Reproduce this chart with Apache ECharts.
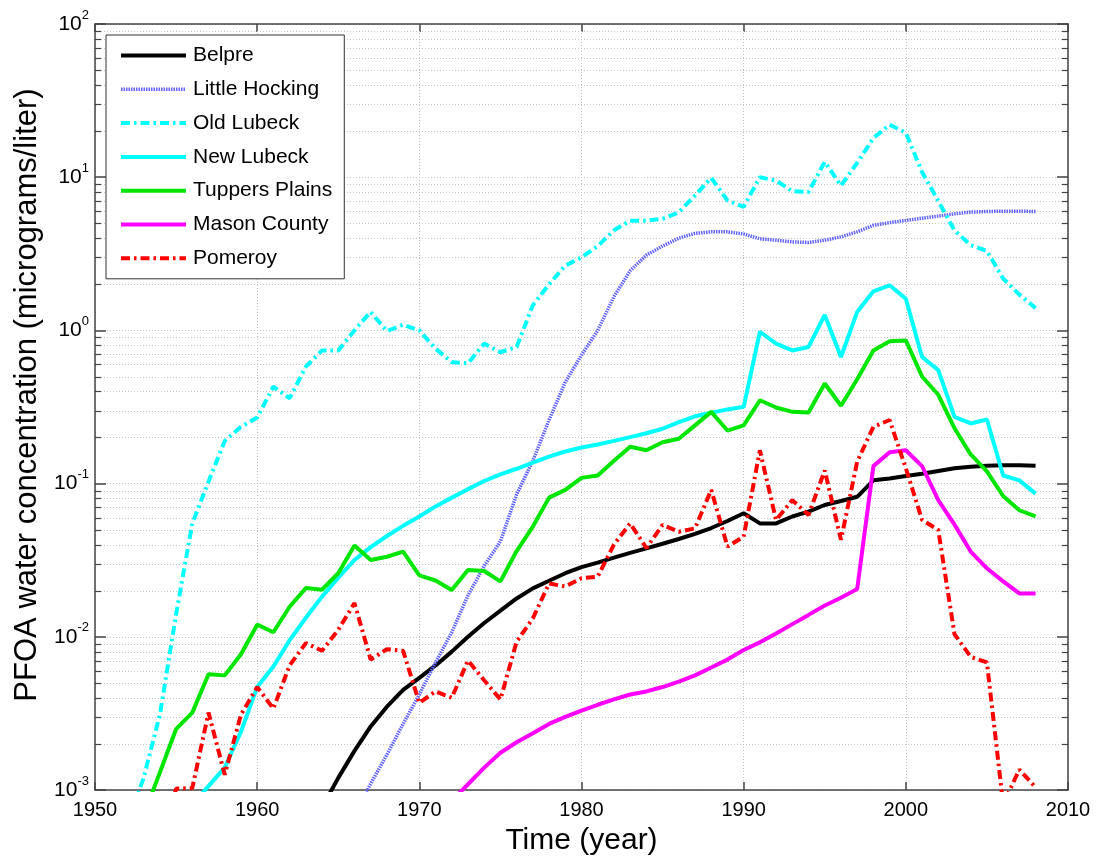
<!DOCTYPE html>
<html>
<head>
<meta charset="utf-8">
<script src="https://cdn.jsdelivr.net/npm/echarts/dist/echarts.min.js"></script>
<style>
  html, body { margin: 0; padding: 0; background: #fff; }
  #chart { width: 1098px; height: 861px; }
</style>
</head>
<body>
<div id="chart"></div>
<script>
  // yearly PFOA estimates, each list starts at its own first year
  var belpreStart = 1964
  var belpre = [0.00077, 0.0012, 0.0018, 0.0026, 0.0035, 0.0045, 0.0054, 0.0065, 0.008, 0.010,
    0.0123, 0.0148, 0.0178, 0.0207, 0.0232, 0.026, 0.0285, 0.0305, 0.0329, 0.0353,
    0.0378, 0.0405, 0.0435, 0.047, 0.0513, 0.057, 0.064, 0.055, 0.055, 0.061,
    0.0656, 0.0725, 0.077, 0.082, 0.105, 0.108, 0.112, 0.116, 0.121, 0.126,
    0.129, 0.131, 0.132, 0.132, 0.131]

  var littleHockingStart = 1966
  var littleHocking = [0.0007, 0.0011, 0.0017, 0.0027, 0.0042, 0.0068, 0.0107, 0.0186, 0.029, 0.042,
    0.085, 0.141, 0.26, 0.46, 0.69, 1.0, 1.66, 2.45, 3.1, 3.55,
    4.0, 4.3, 4.4, 4.4, 4.26, 3.96, 3.88, 3.78, 3.75, 3.88,
    4.08, 4.4, 4.85, 5.05, 5.22, 5.4, 5.57, 5.77, 5.92, 5.97,
    6.0, 6.0, 5.97]

  var oldLubeckStart = 1952
  var oldLubeck = [0.0006, 0.0012, 0.0031, 0.014, 0.055, 0.103, 0.19, 0.235, 0.27, 0.43,
    0.36, 0.58, 0.74, 0.74, 1.0, 1.32, 0.99, 1.09, 1.0, 0.76,
    0.62, 0.61, 0.82, 0.72, 0.78, 1.46, 2.0, 2.65, 3.0, 3.55,
    4.5, 5.2, 5.2, 5.35, 5.9, 7.6, 9.9, 7.05, 6.4, 10.0,
    9.5, 8.1, 8.0, 12.6, 8.8, 12.4, 18.0, 22.0, 19.5, 10.8,
    7.0, 4.5, 3.6, 3.3, 2.18, 1.71, 1.4]

  var newLubeckStart = 1956
  var newLubeck = [0.0008, 0.00106, 0.0014, 0.0024, 0.0047, 0.0064, 0.0095, 0.0133, 0.0183, 0.0243,
    0.0317, 0.0385, 0.0455, 0.053, 0.061, 0.071, 0.081, 0.092, 0.104, 0.115,
    0.125, 0.137, 0.15, 0.162, 0.172, 0.18, 0.19, 0.201, 0.213, 0.228,
    0.252, 0.275, 0.29, 0.305, 0.317, 0.98, 0.82, 0.74, 0.78, 1.26,
    0.67, 1.32, 1.8, 1.97, 1.61, 0.67, 0.55, 0.273, 0.247, 0.262,
    0.113, 0.105, 0.086]

  var tuppersStart = 1953
  var tuppers = [0.00068, 0.0013, 0.0025, 0.0032, 0.0057, 0.0056, 0.0077, 0.012, 0.0107, 0.0157,
    0.0208, 0.0203, 0.026, 0.0394, 0.0317, 0.0333, 0.036, 0.0252, 0.0233, 0.0202,
    0.0273, 0.0269, 0.023, 0.0363, 0.0524, 0.081, 0.091, 0.109, 0.113, 0.141,
    0.174, 0.165, 0.186, 0.196, 0.24, 0.294, 0.222, 0.24, 0.35, 0.314,
    0.294, 0.291, 0.45, 0.322, 0.48, 0.74, 0.85, 0.86, 0.50, 0.38,
    0.23, 0.155, 0.12, 0.083, 0.067, 0.061]

  var masonStart = 1972
  var mason = [0.00085, 0.00109, 0.0014, 0.00175, 0.00205, 0.00235, 0.0027, 0.003, 0.0033, 0.0036,
    0.0039, 0.0042, 0.0044, 0.0047, 0.0051, 0.0056, 0.0063, 0.0071, 0.0082, 0.0092,
    0.0105, 0.0121, 0.0139, 0.016, 0.018, 0.0205, 0.13, 0.16, 0.165, 0.13,
    0.078, 0.054, 0.036, 0.028, 0.023, 0.0192, 0.0192]

  var pomeroyStart = 1954
  var pomeroy = [0.0004, 0.00102, 0.00103, 0.0032, 0.00126, 0.0031, 0.0047, 0.0034, 0.0065, 0.0091,
    0.0081, 0.0111, 0.0166, 0.0071, 0.0083, 0.0081, 0.0037, 0.0044, 0.0040, 0.0070,
    0.0052, 0.0039, 0.0093, 0.0132, 0.0223, 0.0213, 0.0241, 0.0247, 0.040, 0.055,
    0.038, 0.0537, 0.0485, 0.051, 0.091, 0.0388, 0.045, 0.165, 0.0578, 0.078,
    0.0624, 0.122, 0.0429, 0.139, 0.235, 0.26, 0.126, 0.058, 0.0498, 0.0104,
    0.0074, 0.0068, 0.00081, 0.00136, 0.00104]

  var legendNames = ['Belpre', 'Little Hocking', 'Old Lubeck', 'New Lubeck', 'Tuppers Plains', 'Mason County', 'Pomeroy']
  var minorTicks = []
  for (var k = -3; k < 2; k++) {
    for (var m = 2; m <= 9; m++) minorTicks.push(m * Math.pow(10, k))
  }

  var FONT = '"Liberation Sans", Arial, Helvetica, sans-serif'
  var AXIS_COLOR = '#444'
  var GRID_COLOR = '#c4c4c4'
  var HOCKING_COLOR = '#6464ff'

  function pairs (start, vals) {
    return vals.map(function (v, i) { return [start + i, v] })
  }

  function lineSeries (name, start, vals, color, type, width) {
    return {
      name: name,
      type: 'line',
      data: pairs(start, vals),
      symbol: 'none',
      clip: true,
      lineStyle: { color: color, width: width, type: type, cap: 'butt' },
      itemStyle: { color: color },
      emphasis: { disabled: true }
    }
  }

  var chart = echarts.init(document.getElementById('chart'))
  chart.setOption({
    backgroundColor: '#fff',
    animation: false,
    textStyle: { fontFamily: FONT },
    grid: { left: 95, right: 30, top: 24, bottom: 69 },
    legend: {
      data: legendNames.map(function (n) {
        return n === 'Little Hocking' ? { name: n, lineStyle: { width: 3.5 } } : { name: n }
      }),
      orient: 'vertical',
      left: 106,
      top: 35,
      itemWidth: 65,
      itemHeight: 14,
      itemGap: 12.8,
      padding: [10, 12, 10, 13],
      backgroundColor: '#fff',
      borderColor: '#333',
      borderWidth: 1,
      itemStyle: { opacity: 0 },
      lineStyle: { width: 4 },
      textStyle: { fontSize: 21, color: '#000', fontFamily: FONT, padding: [0, 0, 0, 2] }
    },
    xAxis: [{
      type: 'value',
      min: 1950,
      max: 2010,
      interval: 10,
      position: 'bottom',
      name: 'Time (year)',
      nameLocation: 'middle',
      nameGap: 36,
      nameTextStyle: { fontSize: 30, color: '#000', fontFamily: FONT },
      axisLine: { show: true, lineStyle: { color: AXIS_COLOR, width: 1.5 } },
      axisTick: { show: true, inside: true, length: 8, lineStyle: { color: AXIS_COLOR, width: 1.5 } },
      axisLabel: {
        fontSize: 20, color: '#000', margin: 10, fontFamily: FONT,
        formatter: function (v) { return String(v) }
      },
      splitLine: { show: true, lineStyle: { color: GRID_COLOR, width: 1, type: [1, 2] } }
    }, {
      type: 'value',
      min: 1950,
      max: 2010,
      interval: 10,
      position: 'top',
      axisLine: { show: true, lineStyle: { color: AXIS_COLOR, width: 1.5 } },
      axisTick: { show: true, inside: true, length: 8, lineStyle: { color: AXIS_COLOR, width: 1.5 } },
      axisLabel: { show: false },
      splitLine: { show: false }
    }],
    yAxis: [{
      type: 'log',
      logBase: 10,
      min: 0.001,
      max: 100,
      position: 'left',
      name: 'PFOA water concentration (micrograms/liter)',
      nameLocation: 'middle',
      nameGap: 52,
      nameTextStyle: { fontSize: 31, color: '#000', fontFamily: FONT, padding: [0, 0, 0, 24] },
      axisLine: { show: true, lineStyle: { color: AXIS_COLOR, width: 1.5 } },
      axisTick: { show: true, inside: true, length: 11, lineStyle: { color: AXIS_COLOR, width: 1.5 } },
      axisLabel: {
        margin: 6,
        formatter: function (v) {
          var e = Math.round(Math.log(v) / Math.LN10)
          return '{b|10}{s|' + e + '}'
        },
        rich: {
          b: { fontSize: 21, color: '#000', fontFamily: FONT },
          s: { fontSize: 13, color: '#000', fontFamily: FONT, verticalAlign: 'bottom', padding: [0, 0, 18, 0] }
        }
      },
      splitLine: { show: true, lineStyle: { color: GRID_COLOR, width: 1, type: [1, 2] } }
    }, {
      type: 'log',
      logBase: 10,
      min: 0.001,
      max: 100,
      position: 'right',
      axisLine: { show: true, lineStyle: { color: AXIS_COLOR, width: 1.5 } },
      axisTick: { show: true, inside: true, length: 11, lineStyle: { color: AXIS_COLOR, width: 1.5 } },
      axisLabel: { show: false },
      splitLine: { show: false }
    }],
    series: [{
      // minor log gridlines and the short minor ticks on both sides
      type: 'custom',
      name: 'minor',
      silent: true,
      data: minorTicks.map(function (v) { return [1950, v] }),
      renderItem: function (params, api) {
        var p = api.coord([1950, api.value(1)])
        var cs = params.coordSys
        var y = Math.round(p[1]) + 0.5
        var x0 = cs.x
        var x1 = cs.x + cs.width
        return {
          type: 'group',
          children: [
            { type: 'line', shape: { x1: x0, y1: y, x2: x1, y2: y }, style: { stroke: GRID_COLOR, lineWidth: 1, lineDash: [1, 2] } },
            { type: 'line', shape: { x1: x0, y1: y, x2: x0 + 6, y2: y }, style: { stroke: AXIS_COLOR, lineWidth: 1.2 } },
            { type: 'line', shape: { x1: x1 - 6, y1: y, x2: x1, y2: y }, style: { stroke: AXIS_COLOR, lineWidth: 1.2 } }
          ]
        }
      }
    },
      lineSeries('Belpre', belpreStart, belpre, '#000000', 'solid', 4),
      lineSeries('Little Hocking', littleHockingStart, littleHocking, HOCKING_COLOR, [1.5, 1], 3.5),
      lineSeries('Old Lubeck', oldLubeckStart, oldLubeck, '#00ffff', [9, 4, 2.5, 4], 4),
      lineSeries('New Lubeck', newLubeckStart, newLubeck, '#00ffff', 'solid', 4),
      lineSeries('Tuppers Plains', tuppersStart, tuppers, '#00e600', 'solid', 4),
      lineSeries('Mason County', masonStart, mason, '#ff00ff', 'solid', 4),
      lineSeries('Pomeroy', pomeroyStart, pomeroy, '#ff0000', [9, 4, 2.5, 4], 4)
    ]
  })
</script>
</body>
</html>
